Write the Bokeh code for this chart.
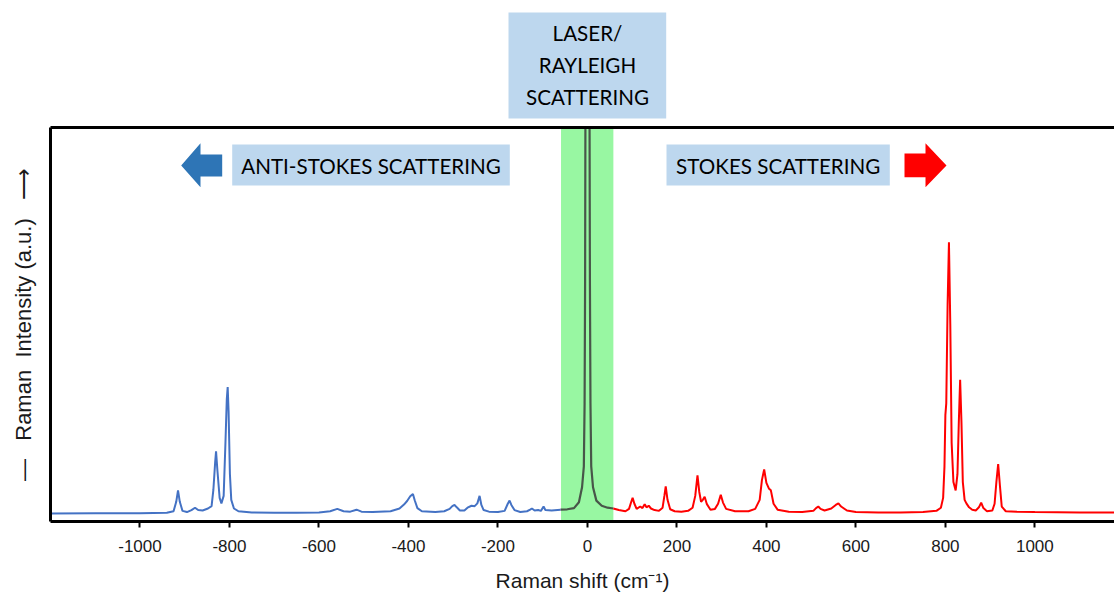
from bokeh.plotting import figure
from bokeh.layouts import column
from bokeh.models import Range1d, LinearAxis, FixedTicker, BoxAnnotation, Label, PolyAnnotation
from bokeh.embed import file_html
from bokeh.resources import INLINE

# ---- data (Raman shift in cm-1, intensity in a.u. 0-100) ----
anti_x = [-1200, -1100, -1000, -940, -925, -919, -915, -911, -905, -895, -885, -877, -870,
          -860, -848, -840, -836, -832, -830, -827, -822, -818, -813, -809, -806, -804, -802,
          -799, -796, -790, -780, -750, -700, -650, -600, -575, -559, -545, -530, -516, -505,
          -480, -440, -420, -410, -403, -396, -390, -386, -380, -370, -340, -320, -308, -302,
          -297, -292, -285, -275, -268, -259, -252, -246, -241, -237, -232, -220, -200, -185,
          -178, -174, -170, -163, -150, -135, -128, -124, -118, -110, -104, -98, -94, -80, -60]
anti_y = [2.0, 2.1, 2.1, 2.2, 2.6, 5.0, 7.9, 5.0, 2.7, 2.4, 2.9, 3.5, 2.9,
          2.8, 3.3, 3.9, 8.0, 15.0, 17.8, 13.0, 6.0, 4.6, 6.5, 20.0, 31.0, 34.1, 28.0,
          12.0, 5.5, 3.3, 2.6, 2.3, 2.2, 2.2, 2.3, 2.6, 3.2, 2.6, 2.5, 3.0, 2.5,
          2.4, 2.6, 3.3, 4.3, 5.2, 6.4, 7.0, 5.4, 3.4, 2.6, 2.4, 2.6, 3.2, 3.9,
          4.2, 3.6, 2.8, 2.8, 3.5, 4.0, 3.9, 4.6, 6.5, 4.2, 2.9, 2.5, 2.4, 2.7,
          4.5, 5.3, 4.2, 2.9, 2.4, 2.6, 3.0, 3.3, 2.8, 2.9, 2.7, 3.8, 2.9, 2.8, 3.0]

rayleigh_x = [-60, -45, -30, -19, -12, -8, -6.3, -5.2, -4.5, -3.5, -2, 0,
              2, 3.5, 4.8, 5.6, 6.8, 8.5, 12.5, 20, 32, 45, 58]
rayleigh_y = [3.0, 3.1, 3.4, 4.9, 8.7, 14, 30, 60, 100, 160, 300, 500,
              300, 160, 100, 60, 30, 14, 8.7, 5.3, 4.0, 3.5, 3.3]

stokes_x = [58, 70, 85, 93, 98, 101, 105, 110, 118, 123, 128, 132, 137, 142, 150, 160, 168,
            172, 175, 179, 185, 195, 210, 225, 235, 241, 246, 250, 254, 258, 262, 267, 275,
            285, 292, 298, 303, 310, 330, 360, 375, 385, 390, 395, 400, 406, 410, 416, 425,
            450, 480, 505, 511, 516, 521, 530, 545, 555, 561, 567, 580, 600, 650, 700, 750,
            780, 790, 795, 798, 800, 802, 805, 808, 811, 814, 818, 823, 827, 830, 833, 836,
            839, 843, 847, 853, 860, 868, 875, 880, 885, 893, 905, 910, 914, 918, 922, 926,
            935, 960, 1000, 1100, 1178]
stokes_y = [3.3, 2.9, 2.6, 3.2, 5.0, 6.0, 4.5, 3.2, 3.8, 3.4, 4.4, 3.6, 4.0, 3.3, 2.9, 2.7, 3.5,
            6.5, 8.9, 5.5, 3.1, 2.6, 2.5, 2.7, 3.5, 6.5, 11.7, 7.5, 5.0, 5.5, 6.3, 4.4, 3.0,
            3.2, 4.5, 6.8, 4.8, 3.2, 2.6, 2.6, 3.2, 5.5, 10.5, 13.2, 9.8, 8.3, 7.9, 4.5, 3.0,
            2.5, 2.4, 2.7, 3.4, 3.8, 3.2, 2.8, 3.3, 4.2, 4.6, 3.8, 2.8, 2.4, 2.3, 2.3, 2.4,
            2.7, 3.5, 6.0, 14.0, 27.0, 30.0, 55.0, 70.9, 50.0, 20.0, 10.0, 7.9, 12.0, 25.0, 36.0, 25.0,
            10.0, 5.5, 4.6, 3.6, 3.0, 2.8, 3.6, 4.8, 3.4, 2.6, 2.8, 4.5, 10.0, 14.6, 9.0, 3.8,
            2.6, 2.5, 2.4, 2.3, 2.3]

tick_values = [-1000, -800, -600, -400, -200, 0, 200, 400, 600, 800, 1000]
tick_labels = ["-1000", "-800", "-600", "-400", "-200", "0", "200", "400", "600", "800", "1000"]
laser_band = [-59, 58]

X0, X1, Y0, Y1 = -1200, 1178, 0, 100
W, H = 1114, 598
TOP_H = 124                              # height of the strip above the plot
FL, FR, FT, FB = 50, 1114, 127, 521      # frame edges in window pixels


def dx(px):
    return X0 + (px - FL) / (FR - FL) * (X1 - X0)


def dy(py):
    return Y0 + (FB - py) / (FB - FT) * (Y1 - Y0)


def dyt(py):
    return TOP_H - py


xr = Range1d(X0, X1)
BOX = "#BDD7EE"
FONT = "Lato"
FS = "20.6px"

# ---------- strip above the plot with the laser box ----------
top = figure(width=W, height=TOP_H, output_backend="svg", toolbar_location=None,
             x_range=xr, y_range=Range1d(0, TOP_H),
             x_axis_location=None, y_axis_location=None,
             min_border_left=FL, min_border_right=W - FR, min_border_top=0, min_border_bottom=0)
top.outline_line_color = None
top.xgrid.visible = False
top.ygrid.visible = False
top.add_layout(BoxAnnotation(left=dx(508), right=dx(665.7), top=dyt(12), bottom=dyt(118),
                             fill_color=BOX, fill_alpha=1.0, line_color=None))
for txt, cy in [("LASER/", 33), ("RAYLEIGH", 65), ("SCATTERING", 97)]:
    top.add_layout(Label(x=dx(587), y=dyt(cy - 0.5), text=txt, text_font=FONT, text_font_size=FS,
                         text_align="center", text_baseline="middle", text_color="black"))

# ---------- main plot ----------
p = figure(width=W, height=H - TOP_H, output_backend="svg", toolbar_location=None,
           x_range=xr, y_range=Range1d(Y0, Y1),
           x_axis_location=None, y_axis_location=None,
           min_border_left=FL, min_border_right=W - FR, min_border_top=FT - TOP_H,
           min_border_bottom=H - FB)
p.outline_line_color = None
p.xgrid.visible = False
p.ygrid.visible = False
p.background_fill_color = "white"
p.border_fill_color = "white"

xaxis = LinearAxis(ticker=FixedTicker(ticks=tick_values), axis_label="Raman shift (cm\u207b\u00b9)")
xaxis.major_label_overrides = {v: s for v, s in zip(tick_values, tick_labels)}
xaxis.axis_line_width = 3
xaxis.axis_line_color = "black"
xaxis.major_tick_line_width = 2
xaxis.major_tick_line_color = "black"
xaxis.major_tick_in = 0
xaxis.major_tick_out = 6
xaxis.minor_tick_in = 0
xaxis.minor_tick_out = 0
xaxis.major_label_standoff = 12
xaxis.major_label_text_font = "Liberation Sans"
xaxis.major_label_text_font_size = "17px"
xaxis.major_label_text_color = "#1a1a1a"
xaxis.axis_label_standoff = 14
xaxis.axis_label_text_font = "Liberation Sans"
xaxis.axis_label_text_font_size = "21px"
xaxis.axis_label_text_font_style = "normal"
xaxis.axis_label_text_color = "#1a1a1a"
p.add_layout(xaxis, "below")

NB = "\u00a0"
ylab = "\u2014" + NB * 3 + "Raman" + NB * 2 + "Intensity" + NB + "(a.u.)" + NB * 3 + "\u27f6"
yaxis = LinearAxis(ticker=FixedTicker(ticks=[]), axis_label=ylab)
yaxis.axis_line_width = 3
yaxis.axis_line_color = "black"
yaxis.major_tick_in = 0
yaxis.major_tick_out = 0
yaxis.minor_tick_in = 0
yaxis.minor_tick_out = 0
yaxis.major_label_text_font_size = "0px"
yaxis.major_label_standoff = 0
yaxis.axis_label_standoff = 15
yaxis.axis_label_text_font = "Liberation Sans"
yaxis.axis_label_text_font_size = "22px"
yaxis.axis_label_text_font_style = "normal"
yaxis.axis_label_text_color = "#1a1a1a"
p.add_layout(yaxis, "left")

topaxis = LinearAxis(ticker=FixedTicker(ticks=[]))
topaxis.axis_line_width = 3
topaxis.axis_line_color = "black"
topaxis.major_tick_in = 0
topaxis.major_tick_out = 0
topaxis.minor_tick_in = 0
topaxis.minor_tick_out = 0
topaxis.major_label_text_font_size = "0px"
topaxis.major_label_standoff = 0
p.add_layout(topaxis, "above")

# laser band
p.add_layout(BoxAnnotation(left=laser_band[0], right=laser_band[1], fill_color="#98F7A2",
                           fill_alpha=1.0, line_color=None, level="underlay"))

# spectra
p.line(anti_x, anti_y, line_color="#4472C4", line_width=2)
p.line(rayleigh_x, rayleigh_y, line_color="#3a3a3a", line_width=2.2, line_alpha=0.85)
p.line(stokes_x, stokes_y, line_color="#FF0000", line_width=2)

# text boxes inside the plot
for (l, r, t, b) in [(231.7, 509.3, 144, 185), (666, 889.3, 144, 185)]:
    p.add_layout(BoxAnnotation(left=dx(l), right=dx(r), top=dy(t), bottom=dy(b),
                               fill_color=BOX, fill_alpha=1.0, line_color=None))
for txt, cx, cy in [("ANTI-STOKES SCATTERING", 370.5, 165), ("STOKES SCATTERING", 777.7, 165)]:
    p.add_layout(Label(x=dx(cx), y=dy(cy), text=txt, text_font=FONT, text_font_size=FS,
                       text_align="center", text_baseline="middle", text_color="black"))

# direction arrows
blue_arrow = [(180.7, 165), (200, 142.7), (200, 154), (221.7, 154), (221.7, 176), (200, 176), (200, 186.7)]
red_arrow = [(946, 165), (925, 142.7), (925, 153), (904, 153), (904, 176.7), (925, 176.7), (925, 186.7)]
for pts, col in [(blue_arrow, "#2E75B6"), (red_arrow, "#FF0000")]:
    p.add_layout(PolyAnnotation(xs=[dx(a) for a, _ in pts], ys=[dy(b) for _, b in pts],
                                fill_color=col, fill_alpha=1.0, line_color=None))

layout = column(top, p, spacing=0)
open("out.html", "w").write(file_html(layout, INLINE))
